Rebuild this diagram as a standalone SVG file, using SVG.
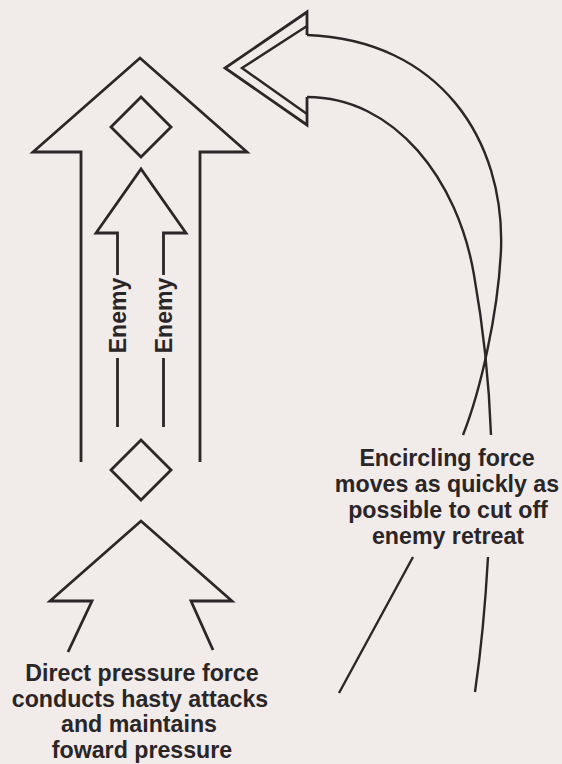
<svg xmlns="http://www.w3.org/2000/svg" width="562" height="764" viewBox="0 0 562 764">
<style>
.ln{fill:none;stroke:#2b2627;stroke-width:2.8;stroke-linejoin:miter;stroke-linecap:butt}
.cv{fill:none;stroke:#2b2627;stroke-width:2.4}
.lbl{font-family:"Liberation Sans",Arial,sans-serif;font-weight:bold;font-size:23.2px;fill:#2a2526;text-anchor:middle}
.en{font-family:"Liberation Sans",Arial,sans-serif;font-weight:bold;font-size:23px;fill:#2a2526;text-anchor:middle}
</style>
<rect width="562" height="764" fill="#f1ebea"/>
<g id="direct-pressure-arrow">
<path class="ln" d="M81,462 V152 H33 L140,58 L247,152 H200 V462"/>
</g>
<g id="lead-diamond">
<path class="ln" d="M141,97 L171,127 L141,157 L111,127 Z"/>
</g>
<g id="enemy-arrow">
<path class="ln" d="M117.5,275 V233 H96 L141,169 L186,233 H163.5 V275"/>
<path class="ln" d="M117.5,358 V427 M163.5,358 V427"/>
<text class="en" transform="translate(125.5,315.5) rotate(-90)">Enemy</text>
<text class="en" transform="translate(171.5,315.5) rotate(-90)">Enemy</text>
</g>
<g id="rear-diamond">
<path class="ln" d="M141,440 L171,470 L141,500 L111,470 Z"/>
</g>
<g id="direct-pressure-force">
<path class="ln" d="M68,652 L92,601 H50 L141,521 L232,601 H191 L213,650"/>
</g>
<g id="encircling-arrow">
<path class="ln" d="M307,35 V12 L225,68 L307,125 V97"/>
<path class="cv" d="M307,26 L242,68 L307,114"/>
</g>
<g id="connectors">
<path class="cv" d="M307,35 C440,40 505,140 501,250 C498,315 480,392 463,435"/>
<path class="cv" d="M307,97 C395,97 458,180 474,275 C482,320 489,380 491,435"/>
<path class="cv" d="M413,557 L339,693"/>
<path class="cv" d="M488,557 Q484,630 475,692"/>
</g>
<g id="label-encircling">
<text class="lbl" x="447" y="466">Encircling force</text>
<text class="lbl" x="447" y="492">moves as quickly as</text>
<text class="lbl" x="448" y="518">possible to cut off</text>
<text class="lbl" x="448" y="544">enemy retreat</text>
</g>
<g id="label-direct">
<text class="lbl" x="142" y="681">Direct pressure force</text>
<text class="lbl" x="140" y="706.5">conducts hasty attacks</text>
<text class="lbl" x="139" y="732">and maintains</text>
<text class="lbl" x="142" y="757.5">foward pressure</text>
</g>
</svg>
